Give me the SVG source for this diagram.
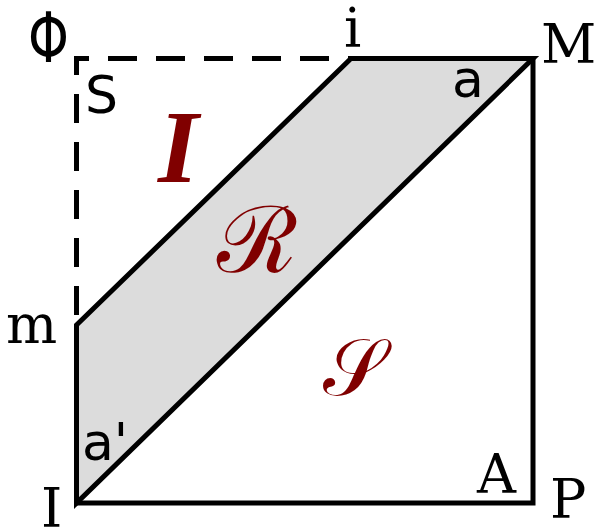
<svg xmlns="http://www.w3.org/2000/svg" width="595" height="530" viewBox="0 0 595 530">
<style>
.ln{fill:none;stroke:#000;stroke-width:5;stroke-linejoin:miter;stroke-miterlimit:10}
.serif{font-family:"DejaVu Serif","Liberation Serif",serif;font-size:54px;fill:#000}
.sans{font-family:"DejaVu Sans","Liberation Sans",sans-serif;font-size:52px;fill:#000}
.red{fill:#800000}
</style>
<rect width="595" height="530" fill="#fff"/>
<path class="ln" d="M351,58.5 H76.5 V325" stroke-dasharray="29,19" stroke-dashoffset="26"/>
<polygon points="351,58.5 533,58.5 76.5,503 76.5,325" class="ln" style="fill:#dcdcdc"/>
<polyline class="ln" points="533,58.5 533,503 76.5,503"/>
<text class="sans" x="0" y="0" transform="translate(28,62) scale(1,1.35)">Φ</text>
<text class="sans" x="85" y="113">S</text>
<text class="serif" x="344" y="47">i</text>
<text class="serif" x="541" y="63">M</text>
<text class="sans" x="452" y="97">a</text>
<text class="serif" x="6" y="343">m</text>
<text class="sans" x="82" y="460">a'</text>
<text class="serif" x="41" y="527">I</text>
<text class="serif" x="477" y="493">A</text>
<text class="serif" x="550" y="518">P</text>
<text class="red" x="158" y="182" style="font-family:'Liberation Serif',serif;font-size:104px;font-weight:bold;font-style:italic">I</text>
<text class="serif red" x="217" y="272" style="font-size:92px">ℛ</text>
<text class="serif red" x="323" y="395" style="font-size:80px">𝒮</text>
</svg>
